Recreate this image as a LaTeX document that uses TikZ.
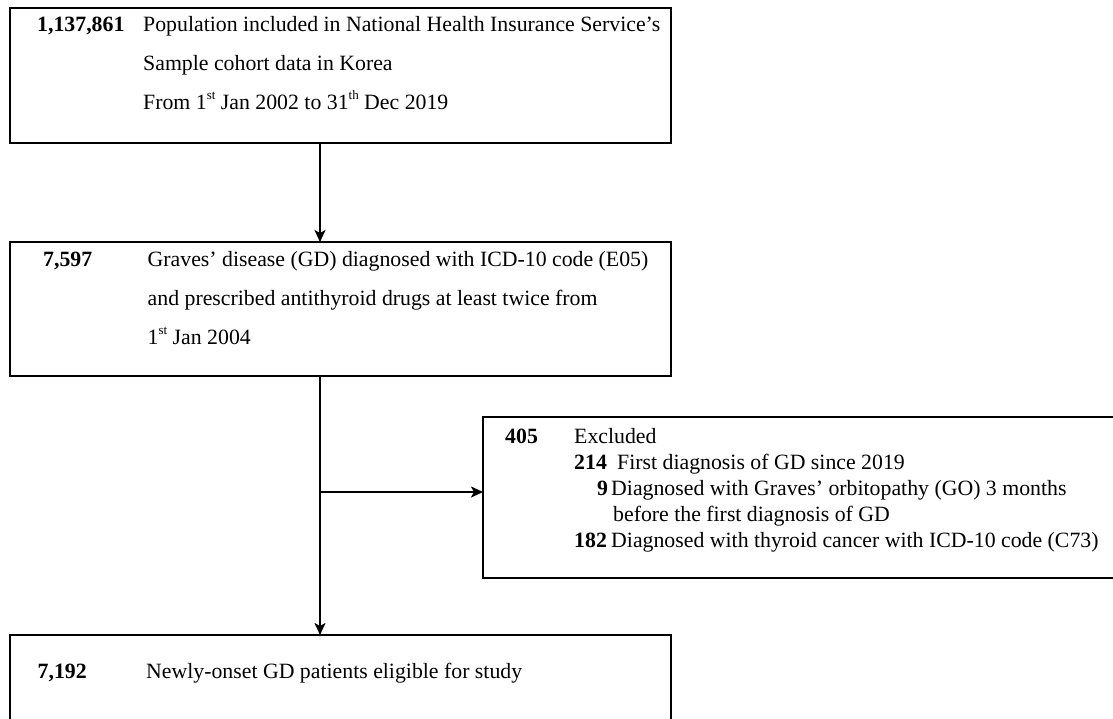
\documentclass[tikz,border=0pt]{standalone}
\usepackage{fontspec}
\setmainfont{Liberation Serif}
\usetikzlibrary{arrows.meta}
\newcommand{\supx}[1]{\raisebox{0.42em}{\fontsize{13}{13}\selectfont #1}}
\begin{document}
\begin{tikzpicture}[x=1pt,y=-1pt,
  box/.style={draw=black, line width=2.4pt, rectangle, anchor=north west, inner sep=0pt, outer sep=0pt},
  arr/.style={line width=2.4pt, -{Stealth[length=12pt,width=11pt,inset=3pt]}},
  txt/.style={anchor=base west, inner sep=0pt, font=\fontsize{21.8}{26}\selectfont},
  num/.style={txt, font=\fontsize{21.8}{26}\selectfont\bfseries}]
\useasboundingbox (0,0) rectangle (1113,718);
\fill[white] (0,0) rectangle (1113,718);
% boxes
\node[box, minimum width=661pt, minimum height=135pt] (b1) at (10,8) {};
\node[box, minimum width=661pt, minimum height=134pt] (b2) at (10,242) {};
\node[box, minimum width=640pt, minimum height=161pt] (b3) at (483,417) {};
\node[box, minimum width=661pt, minimum height=100pt] (b4) at (10,635) {};
% texts box 1
\node[num] (n1) at (37,31) {1,137,861};
\node[txt] (t1a) at (143,31) {Population included in National Health Insurance Service’s};
\node[txt] (t1b) at (143,70) {Sample cohort data in Korea};
\node[txt] (t1c) at (143,109) {From 1\supx{st} Jan 2002 to 31\supx{th} Dec 2019};
% texts box 2
\node[num] (n2) at (43,266) {7,597};
\node[txt] (t2a) at (147.5,266) {Graves’ disease (GD) diagnosed with ICD-10 code (E05)};
\node[txt] (t2b) at (147.5,305) {and prescribed antithyroid drugs at least twice from};
\node[txt] (t2c) at (147.5,344) {1\supx{st} Jan 2004};
% texts box 3
\node[num] (n3) at (505,443) {405};
\node[txt] (t3a) at (574,443) {Excluded};
\node[num] (n3b) at (574,469) {214};
\node[txt] (t3b) at (617,469) {First diagnosis of GD since 2019};
\node[num] (n3c) at (597,495) {9};
\node[txt] (t3c) at (611,495) {Diagnosed with Graves’ orbitopathy (GO) 3 months};
\node[txt] (t3d) at (613,521) {before the first diagnosis of GD};
\node[num] (n3e) at (574,547) {182};
\node[txt] (t3e) at (611,547) {Diagnosed with thyroid cancer with ICD-10 code (C73)};
% texts box 4
\node[num] (n4) at (37.5,678) {7,192};
\node[txt] (t4) at (146,678) {Newly-onset GD patients eligible for study};
% connectors
\draw[arr] ([xshift=310pt]b1.south west) -- ([xshift=310pt]b2.north west);
\draw[arr] ([xshift=310pt]b2.south west) -- ([xshift=310pt]b4.north west);
\coordinate (j) at (320,492);
\draw[arr] (j) -- (j -| b3.west);
\end{tikzpicture}
\end{document}
